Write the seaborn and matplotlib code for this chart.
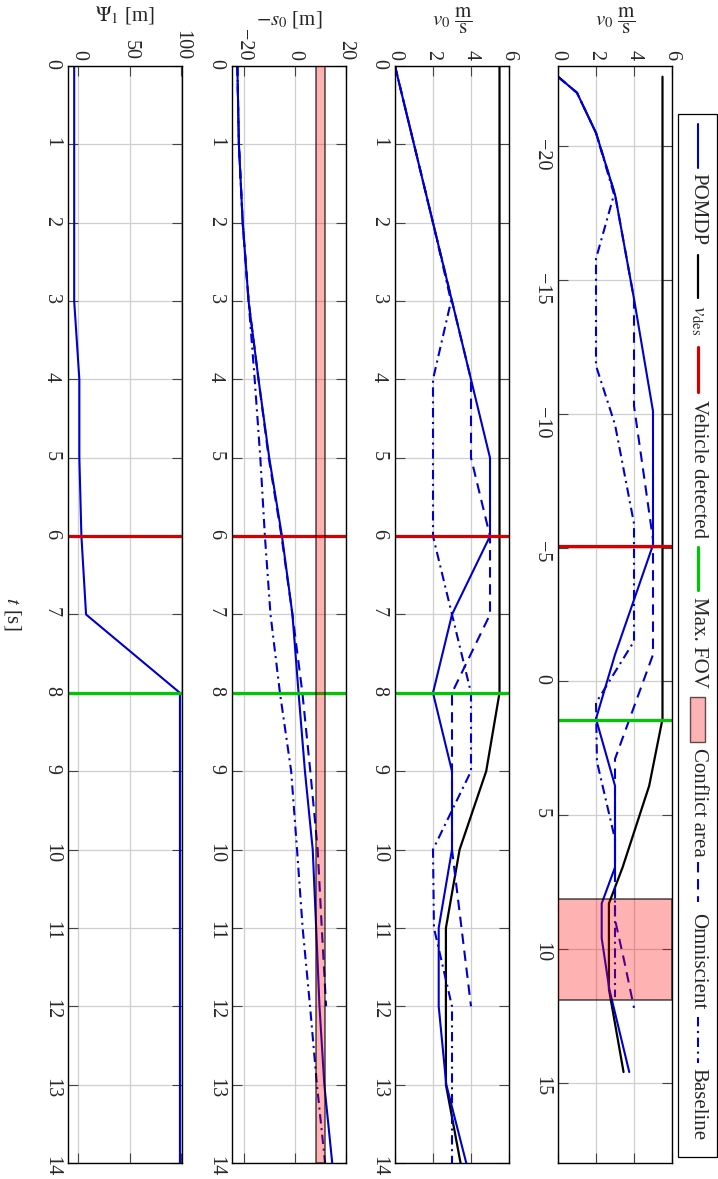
import numpy as np
import pandas as pd
import seaborn as sns
import matplotlib.pyplot as plt
from matplotlib.lines import Line2D
from matplotlib.patches import Rectangle

# time steps [s]
t = [0, 1, 2, 3, 4, 5, 6, 7, 8, 9, 10, 11, 12, 13, 14]
t_omni = [0, 1, 2, 3, 4, 5, 6, 7, 8, 9, 10, 11, 12]

# velocities [m/s]
v_pomdp = [0, 1, 2, 3, 4, 5, 5, 3, 2, 3, 3, 2.3, 2.3, 2.7, 3.75]
v_des = [5.5, 5.5, 5.5, 5.5, 5.5, 5.5, 5.5, 5.5, 5.5, 4.8, 3.4, 2.68, 2.68, 2.68, 3.45]
v_omni = [0, 1, 2, 3, 4, 4, 5, 5, 3, 3, 3, 3.5, 4.0]
v_base = [0, 1, 2, 2.95, 2, 2, 2, 3, 4, 4, 2, 2.05, 3, 3, 3]

# -s0 positions [m]
s_pomdp = [-22.6, -22.0, -20.5, -18.2, -14.3, -10.1, -5.1, -1.0, 1.4, 3.9, 6.95, 8.3, 9.6, 11.5, 14.6]
s_omni = [-22.6, -22.0, -20.5, -18.2, -14.3, -10.3, -5.3, -1.0, 2.9, 6.0, 8.9, 10.5, 12.2]
s_base = [-22.6, -22.0, -20.5, -18.2, -15.8, -13.6, -11.8, -9.6, -5.9, -1.5, 0.8, 3.0, 5.9, 8.6, 11.8]

# Psi_1 [m]
psi = [-4, -4, -4, -4, 1, 1, 3, 7.5, 98.5, 98.5, 98.5, 98.5, 98.5, 98.5, 98.5]

t_detect, t_fov = 6, 8
s_detect, s_fov = -5.05, 1.43
conflict = (8.15, 11.9)

BLUE = "#0000cc"
RED = "#d40000"
GREEN = "#00c800"
DASH = (0, (5, 3.2))
DASHDOT = (0, (4.5, 2.2, 1, 2.2))

sns.set_style("white")
plt.rcParams["font.family"] = ["Liberation Serif", "DejaVu Serif"]
plt.rcParams["mathtext.fontset"] = "stix"
plt.rcParams["axes.unicode_minus"] = True

W, H = 718, 1179
fig = plt.figure(figsize=(W / 100, H / 100), dpi=100)


def px(x):
    return x / W


def py(y):
    return 1 - y / H


top, bot = 66, 1163
cols = {"psi": (68, 182), "s": (232, 346), "vt": (395, 509), "vs": (558, 672)}
axes = {}
for k, (x0, x1) in cols.items():
    axes[k] = fig.add_axes([px(x0), py(bot), px(x1) - px(x0), py(top) - py(bot)])


def line(ax, x, y, **kw):
    sns.lineplot(x=x, y=y, orient="y", sort=False, estimator=None, ax=ax, **kw)


def style(ax, xlim, ylim, xticks, yticks, label, label_y=21):
    ax.set_xlim(*xlim)
    ax.set_ylim(*ylim)
    ax.set_xticks(xticks)
    ax.set_yticks(yticks)
    ax.xaxis.tick_top()
    ax.xaxis.set_label_position("top")
    ax.tick_params(axis="both", direction="in", length=7, width=0.8, color="#444444",
                   top=True, bottom=True, left=True, right=True, labelsize=14.5)
    ax.tick_params(axis="x", labeltop=True, labelbottom=False, rotation=-90, pad=4)
    ax.tick_params(axis="y", labelleft=True, labelright=False, rotation=-90, pad=5)
    ax.grid(True, color="#cfcfcf", lw=0.9)
    ax.set_axisbelow(True)
    for sp in ax.spines.values():
        sp.set_color("black")
        sp.set_linewidth(1.0)
    ax.set_xlabel(label, fontsize=15)
    ax.xaxis.label.set_va("center")
    ax.xaxis.set_label_coords(0.5, 1 + (top - label_y) / (bot - top))
    ax.set_ylabel("")


VLABEL = r"$v_0\ \dfrac{\mathrm{m}}{\mathrm{s}}$"

# panel 1: velocity over position
ax = axes["vs"]
line(ax, v_des, s_pomdp, color="black", lw=1.6)
line(ax, v_pomdp, s_pomdp, color=BLUE, lw=1.5)
line(ax, v_omni, s_omni, color=BLUE, lw=1.5, linestyle=DASH)
line(ax, v_base, s_base, color=BLUE, lw=1.5, linestyle=DASHDOT)
ax.axhline(s_detect, color=RED, lw=2.3)
ax.axhline(s_fov, color=GREEN, lw=2.3)
ax.axhspan(*conflict, facecolor=(1, 0, 0, 0.3), edgecolor=(0, 0, 0, 0.65), lw=1.2, zorder=5)
style(ax, (0, 6), (18, -23), [0, 2, 4, 6], [-20, -15, -10, -5, 0, 5, 10, 15], VLABEL, 21)

# panel 2: velocity over time
ax = axes["vt"]
line(ax, v_des, t, color="black", lw=1.6)
line(ax, v_pomdp, t, color=BLUE, lw=1.5)
line(ax, v_omni, t_omni, color=BLUE, lw=1.5, linestyle=DASH)
line(ax, v_base, t, color=BLUE, lw=1.5, linestyle=DASHDOT)
ax.axhline(t_detect, color=RED, lw=2.3)
ax.axhline(t_fov, color=GREEN, lw=2.3)
style(ax, (0, 6), (14, 0), [0, 2, 4, 6], list(range(15)), VLABEL, 21)

# panel 3: position over time
ax = axes["s"]
line(ax, s_pomdp, t, color=BLUE, lw=1.5)
line(ax, s_omni, t_omni, color=BLUE, lw=1.5, linestyle=DASH)
line(ax, s_base, t, color=BLUE, lw=1.5, linestyle=DASHDOT)
ax.axhline(t_detect, color=RED, lw=2.3)
ax.axhline(t_fov, color=GREEN, lw=2.3)
ax.axvspan(*conflict, facecolor=(1, 0, 0, 0.3), edgecolor=(0, 0, 0, 0.65), lw=1.2, zorder=5)
style(ax, (-24.7, 20), (14, 0), [-20, 0, 20], list(range(15)), r"$-s_0$ [m]", 19)

# panel 4: Psi over time
ax = axes["psi"]
line(ax, psi, t, color=BLUE, lw=1.5)
ax.axhline(t_detect, color=RED, lw=2.3)
ax.axhline(t_fov, color=GREEN, lw=2.3)
style(ax, (-10, 100.5), (14, 0), [0, 50, 100], list(range(15)), r"$\Psi_1$ [m]", 15)

fig.text(px(12), py(614), r"$t$ [s]", rotation=-90, ha="center", va="center", fontsize=15)

# legend (rotated by hand)
fig.add_artist(Rectangle((px(678), py(1157)), px(717) - px(678), py(114) - py(1157),
                         transform=fig.transFigure, facecolor="white", edgecolor="black", lw=0.9))
lx = px(698)
entries = [
    ("line", dict(color=BLUE, lw=1.5), (124, 168), "POMDP", 173),
    ("line", dict(color="black", lw=1.6), (255, 298), r"$v_{\mathrm{des}}$", 305),
    ("line", dict(color=RED, lw=2.3), (347, 392), "Vehicle detected", 400),
    ("line", dict(color=GREEN, lw=2.3), (547, 590), "Max. FOV", 597),
    ("patch", None, (697, 742), "Conflict area", 748),
    ("line", dict(color=BLUE, lw=1.5, linestyle=DASH), (862, 902), "Omniscient", 913),
    ("line", dict(color=BLUE, lw=1.5, linestyle=DASHDOT), (1017, 1063), "Baseline", 1068),
]
for kind, kw, (y0, y1), text, ty in entries:
    if kind == "line":
        fig.add_artist(Line2D([lx, lx], [py(y0), py(y1)], transform=fig.transFigure, **kw))
    else:
        fig.add_artist(Rectangle((px(690), py(y1)), px(705) - px(690), py(y0) - py(y1),
                                 transform=fig.transFigure, facecolor=(1, 0, 0, 0.3),
                                 edgecolor=(0, 0, 0, 0.65), lw=1.0))
    fig.text(lx, py(ty), text, rotation=-90, ha="center", va="top", fontsize=15)

fig.savefig("out.png", dpi=100)
